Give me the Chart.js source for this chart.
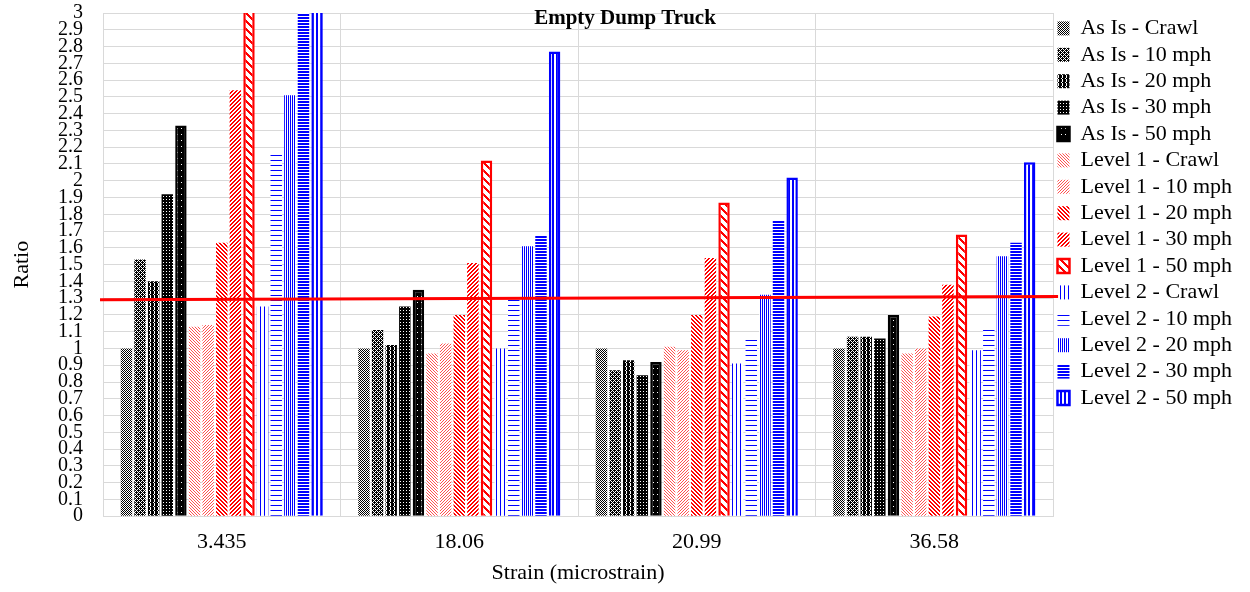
<!DOCTYPE html>
<html>
<head>
<meta charset="utf-8">
<script src="https://cdn.jsdelivr.net/npm/chart.js@4.4.1/dist/chart.umd.min.js"></script>
<style>
  html, body { margin: 0; padding: 0; background: #fff; }
  #wrap { width: 1250px; height: 592px; }
</style>
</head>
<body>
<div id="wrap"><canvas id="truckChart"></canvas></div>
<script>
// Strain levels (microstrain) on the x axis
const strains = ['3.435', '18.06', '20.99', '36.58'];

// Ratios for the as-is deck
const asIsCrawl = [1.00, 1.00, 1.00, 1.00];
const asIs10 = [1.53, 1.11, 0.87, 1.07];
const asIs20 = [1.40, 1.02, 0.93, 1.07];
const asIs30 = [1.92, 1.25, 0.84, 1.06];
const asIs50 = [2.33, 1.35, 0.92, 1.20];

// Level 1 roughness
const lvl1Crawl = [1.13, 0.97, 1.01, 0.97];
const lvl1Mph10 = [1.14, 1.03, 0.99, 1.00];
const lvl1Mph20 = [1.63, 1.20, 1.20, 1.19];
const lvl1Mph30 = [2.54, 1.51, 1.54, 1.38];
const lvl1Mph50 = [3.40, 2.12, 1.87, 1.68];

// Level 2 roughness
const lvl2Crawl = [1.25, 1.00, 0.91, 0.99];
const lvl2Mph10 = [2.17, 1.30, 1.07, 1.13];
const lvl2Mph20 = [2.51, 1.61, 1.32, 1.55];
const lvl2Mph30 = [3.20, 1.67, 1.76, 1.63];
const lvl2Mph50 = [3.60, 2.77, 2.02, 2.11];

// red reference line (start / end value)
const limitLine = [1.29, 1.31];

const canvas = document.getElementById('truckChart');
const mainCtx = canvas.getContext('2d');

// small bitmap fills, '1' = ink
function bitmap(rows, ink, paper) {
  const c = document.createElement('canvas');
  c.width = rows[0].length;
  c.height = rows.length;
  const g = c.getContext('2d');
  g.fillStyle = paper || '#ffffff';
  g.fillRect(0, 0, c.width, c.height);
  g.fillStyle = ink;
  rows.forEach((r, y) => {
    for (let x = 0; x < r.length; x++) {
      if (r[x] === '1') g.fillRect(x, y, 1, 1);
    }
  });
  return mainCtx.createPattern(c, 'repeat');
}

const RED = '#ff0000';
const BLUE = '#0000ff';
const BLACK = '#000000';

const fills = {
  asIsCrawl: bitmap(['10', '01'], BLACK),
  asIs10: bitmap(['1101', '1010', '0111', '1010'], BLACK),
  asIs20: bitmap(['1101', '1101', '1011', '1101'], BLACK),
  asIs30: bitmap(['111', '101', '111'], BLACK),
  asIs50: bitmap(['1111', '1111', '1011', '1111', '1111', '1111'], BLACK),
  lvl1Crawl: bitmap(['100', '010', '001'], '#ff5050'),
  lvl1Mph10: bitmap(['001', '010', '100'], '#ff5050'),
  lvl1Mph20: bitmap(['1100', '0110', '0011', '1001'], RED),
  lvl1Mph30: bitmap(['0011', '0110', '1100', '1001'], RED),
  lvl1Mph50: bitmap([
    '11100000', '01110000', '00111000', '00011100',
    '00001110', '00000111', '10000011', '11000001'], RED),
  lvl2Crawl: bitmap(['1000'], BLUE),
  lvl2Mph10: bitmap(['1111', '0000', '0000', '0000', '0000'], BLUE),
  lvl2Mph20: bitmap(['10'], BLUE),
  lvl2Mph30: bitmap(['1111', '0000', '1111'], BLUE),
  lvl2Mph50: bitmap(['1100'], BLUE)
};

function series(label, data, fill, edge) {
  return {
    label: label,
    data: data,
    backgroundColor: fill,
    borderColor: edge || 'rgba(0,0,0,0)',
    borderWidth: edge ? 2.5 : 0
  };
}

const serif = "'Liberation Serif', 'Times New Roman', serif";

// red line drawn across the plot, plus the title sitting inside the plot
const overlay = {
  id: 'overlay',
  afterDatasetsDraw(chart) {
    const { ctx, chartArea, scales } = chart;
    ctx.save();
    ctx.strokeStyle = RED;
    ctx.lineWidth = 3;
    ctx.beginPath();
    ctx.moveTo(chartArea.left - 3, scales.y.getPixelForValue(limitLine[0]));
    ctx.lineTo(chartArea.right + 5, scales.y.getPixelForValue(limitLine[1]));
    ctx.stroke();

    ctx.fillStyle = '#000';
    ctx.font = 'bold 21px ' + serif;
    ctx.textAlign = 'center';
    ctx.textBaseline = 'middle';
    ctx.fillText('Empty Dump Truck', chart.width / 2, 19);
    ctx.restore();
  }
};

new Chart(mainCtx, {
  type: 'bar',
  data: {
    labels: strains,
    datasets: [
      series('As Is - Crawl', asIsCrawl, fills.asIsCrawl),
      series('As Is - 10 mph', asIs10, fills.asIs10),
      series('As Is - 20 mph', asIs20, fills.asIs20),
      series('As Is - 30 mph', asIs30, fills.asIs30),
      series('As Is - 50 mph', asIs50, fills.asIs50, BLACK),
      series('Level 1 - Crawl', lvl1Crawl, fills.lvl1Crawl),
      series('Level 1 - 10 mph', lvl1Mph10, fills.lvl1Mph10),
      series('Level 1 - 20 mph', lvl1Mph20, fills.lvl1Mph20),
      series('Level 1 - 30 mph', lvl1Mph30, fills.lvl1Mph30),
      series('Level 1 - 50 mph', lvl1Mph50, fills.lvl1Mph50, RED),
      series('Level 2 - Crawl', lvl2Crawl, fills.lvl2Crawl),
      series('Level 2 - 10 mph', lvl2Mph10, fills.lvl2Mph10),
      series('Level 2 - 20 mph', lvl2Mph20, fills.lvl2Mph20),
      series('Level 2 - 30 mph', lvl2Mph30, fills.lvl2Mph30),
      series('Level 2 - 50 mph', lvl2Mph50, fills.lvl2Mph50, BLUE)
    ]
  },
  options: {
    responsive: true,
    maintainAspectRatio: false,
    animation: false,
    layout: { padding: { top: 13, right: 8, bottom: 6, left: 0 } },
    datasets: {
      bar: { categoryPercentage: 0.86, barPercentage: 0.84 }
    },
    scales: {
      x: {
        grid: { color: '#d9d9d9', drawTicks: false },
        border: { color: '#d9d9d9' },
        ticks: { color: '#000', font: { family: serif, size: 22 }, padding: 13 },
        title: {
          display: true,
          text: 'Strain (microstrain)',
          color: '#000',
          font: { family: serif, size: 22 },
          padding: { top: -9, bottom: 0 }
        }
      },
      y: {
        min: 0,
        max: 3,
        grid: { color: '#d9d9d9', drawTicks: false },
        border: { color: '#d9d9d9' },
        ticks: {
          stepSize: 0.1,
          autoSkip: false,
          color: '#000',
          font: { family: serif, size: 20 },
          padding: 20,
          callback: (v) => String(Number(v.toFixed(1)))
        },
        title: {
          display: true,
          text: 'Ratio',
          color: '#000',
          font: { family: serif, size: 22 },
          padding: { top: 9, bottom: 0 }
        },
        afterFit(scale) {
          scale.width = 103;
          scale.paddingTop = 0;
          scale.paddingBottom = 0;
        }
      }
    },
    plugins: {
      title: { display: false },
      tooltip: { enabled: false },
      legend: {
        position: 'right',
        align: 'start',
        labels: {
          color: '#000',
          font: { family: serif, size: 22 },
          boxWidth: 12,
          boxHeight: 14,
          padding: 4.4
        }
      }
    }
  },
  plugins: [overlay]
});
</script>
</body>
</html>
